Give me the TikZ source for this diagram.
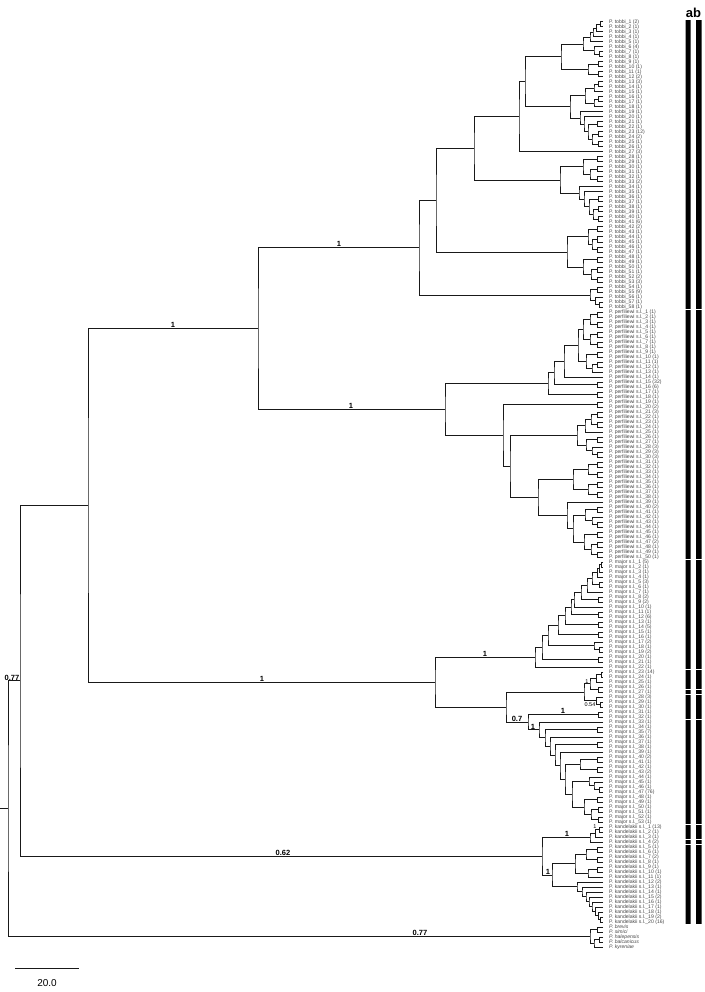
\documentclass[tikz,border=0pt]{standalone}
\usepackage{fontspec}
\setmainfont{Liberation Sans}
\usetikzlibrary{calc}
\tikzset{
  br/.style={line width=1pt, draw=black!90},
  lab/.style={anchor=west, inner sep=0pt, text=black!72, font=\fontsize{5.1}{5}\selectfont},
  labit/.style={lab, font=\fontsize{5.1}{5}\selectfont\itshape},
  sup/.style={inner sep=0.6pt, font=\fontsize{7.5}{8}\selectfont\bfseries},
  supsm/.style={inner sep=0.4pt, font=\fontsize{5.5}{6}\selectfont},
}
\newcommand\clade[4]{%
  \path let \p1=(#3), \p2=(#4) in coordinate (#1) at (#2pt,{0.5*\y1+0.5*\y2});
  \draw[br] (#3) -| (#1) |- (#4);}
\newcommand\supv[4][sup]{%
  \path let \p1=(#3) in node[#1,anchor=south] at (#2pt,\y1) {#4};}
\newcommand\barseg[2]{%
  \path let \p1=(#1), \p2=(#2) in
    [fill=black] (685.5pt,\y1+1.8pt) rectangle (690.5pt,\y2-1.8pt)
    (696pt,\y1+1.8pt) rectangle (701.5pt,\y2-1.8pt);}
\begin{document}
\begin{tikzpicture}[x=1pt,y=-1pt]
\fill[white] (0,0) rectangle (704,992);
\useasboundingbox (0,0) rectangle (704,992);
% ---------- leaves ----------
\foreach \c [count=\i] in {2,1,1,1,1,4,1,1,1,1,1,2,3,1,1,1,1,1,1,1,1,1,12,2,1,1,3,1,1,1,1,1,2,1,1,1,1,1,1,1,6,2,1,1,1,1,1,1,1,1,1,2,3,1,9,1,1,1}{
  \pgfmathsetmacro\yy{22+5*(\i-1)}
  \coordinate (T\i) at (603,\yy);
  \node[lab] (nT\i) at (609,\yy) {P. tobbi\_\i\ (\c)};}
\foreach \c [count=\i] in {1,1,1,1,1,1,1,1,1,1,1,1,1,1,32,6,1,1,1,2,3,1,1,1,1,1,1,3,3,3,1,1,1,1,1,1,1,1,1,2,1,1,1,1,1,1,2,1,1,1}{
  \pgfmathsetmacro\yy{312+5*(\i-1)}
  \coordinate (P\i) at (603,\yy);
  \node[lab] (nP\i) at (609,\yy) {P. perfiliewi s.l.\_\i\ (\c)};}
\foreach \c [count=\i] in {5,1,1,1,3,1,1,2,2,1,1,6,1,5,1,1,2,1,2,1,1,1,14,1,1,1,1,3,1,1,1,1,1,1,7,1,1,1,1,2,1,1,2,1,1,1,76,1,1,1,1,1,1}{
  \pgfmathsetmacro\yy{562+5*(\i-1)}
  \coordinate (M\i) at (603,\yy);
  \node[lab] (nM\i) at (609,\yy) {P. major s.l.\_\i\ (\c)};}
\foreach \c [count=\i] in {13,1,1,2,1,1,2,1,1,1,1,2,1,1,2,1,1,1,2,16}{
  \pgfmathsetmacro\yy{827+5*(\i-1)}
  \coordinate (K\i) at (603,\yy);
  \node[lab] (nK\i) at (609,\yy) {P. kandelakii s.l.\_\i\ (\c)};}
\foreach \s [count=\i] in {brevis,simici,halepensis,balcanicus,kyreniae}{
  \pgfmathsetmacro\yy{927+5*(\i-1)}
  \coordinate (O\i) at (603,\yy);
  \node[labit] (nO\i) at (609,\yy) {P. \s};}
% ---------- tobbi ----------
\clade{ta1}{600}{T1}{T2}
\clade{ta2}{596}{ta1}{T3}
\clade{ta3}{593}{ta2}{T4}
\clade{ta4}{590}{ta3}{T5}
\clade{ta5}{599}{T7}{T8}
\clade{ta6}{594}{T6}{ta5}
\clade{ta7}{583}{ta4}{ta6}
\clade{ta8}{598}{T9}{T10}
\clade{ta9}{598}{T11}{T12}
\clade{ta10}{588}{ta8}{ta9}
\clade{Xa}{561}{ta7}{ta10}
\clade{tb1}{598}{T13}{T14}
\clade{tb2}{594}{tb1}{T15}
\clade{tb3}{598}{T16}{T17}
\clade{tb4}{594}{tb3}{T18}
\clade{tb5}{585}{tb2}{tb4}
\clade{tb6}{598}{T23}{T24}
\clade{tb7}{598}{T25}{T26}
\clade{tb8}{592}{tb6}{tb7}
\clade{tb9}{597}{T21}{T22}
\clade{tb10}{588}{tb9}{tb8}
\clade{tb11}{584}{T20}{tb10}
\clade{tb12}{580}{T19}{tb11}
\clade{Xb}{570}{tb5}{tb12}
\clade{X}{525}{Xa}{Xb}
\clade{V1}{519}{X}{T27}
\clade{tc1}{597}{T28}{T29}
\clade{tc2}{597}{T30}{T31}
\clade{tc3}{597}{T32}{T33}
\clade{tc4}{590}{tc2}{tc3}
\clade{tc5}{583}{tc1}{tc4}
\clade{tc6}{598}{T38}{T39}
\clade{tc7}{598}{T40}{T41}
\clade{tc8}{593}{tc6}{tc7}
\clade{tc9}{598}{T36}{T37}
\clade{tc10}{589}{tc9}{tc8}
\clade{tc11}{584}{T35}{tc10}
\clade{tc12}{579}{T34}{tc11}
\clade{V2}{560}{tc5}{tc12}
\clade{V}{474}{V1}{V2}
\clade{td1}{597}{T42}{T43}
\clade{td2}{597}{T44}{T45}
\clade{td3}{597}{T46}{T47}
\clade{td4}{592}{td2}{td3}
\clade{td5}{588}{td1}{td4}
\clade{td6}{597}{T48}{T49}
\clade{td7}{597}{T50}{T51}
\clade{td8}{597}{T52}{T53}
\clade{td9}{591}{td7}{td8}
\clade{td10}{583}{td6}{td9}
\clade{W}{567}{td5}{td10}
\clade{U}{436}{V}{W}
\clade{te1}{597}{T54}{T55}
\clade{te2}{599}{T57}{T58}
\clade{te3}{595}{T56}{te2}
\clade{Tz}{590}{te1}{te3}
\clade{Troot}{419}{U}{Tz}
% ---------- perfiliewi ----------
\clade{pa1}{597}{P1}{P2}
\clade{pa2}{597}{P3}{P4}
\clade{pa3}{590}{pa1}{pa2}
\clade{pa4}{597}{P5}{P6}
\clade{pa5}{597}{P7}{P8}
\clade{pa6}{590}{pa4}{pa5}
\clade{PA4}{583}{pa3}{pa6}
\clade{pa7}{597}{P9}{P10}
\clade{pa8}{597}{P11}{P12}
\clade{pa9}{592}{pa8}{P13}
\clade{PA5}{586}{pa7}{pa9}
\clade{PA3}{578}{PA4}{PA5}
\clade{PA2}{564}{PA3}{P14}
\clade{pa10}{597}{P15}{P16}
\clade{PA1}{554}{PA2}{pa10}
\clade{pa11}{597}{P17}{P18}
\clade{PA}{548}{PA1}{pa11}
\clade{pb1}{597}{P19}{P20}
\clade{pc1}{597}{P21}{P22}
\clade{pc2}{597}{P23}{P24}
\clade{pc3}{591}{pc1}{pc2}
\clade{pc4}{585}{pc3}{P25}
\clade{pc5}{597}{P26}{P27}
\clade{pc6}{597}{P29}{P30}
\clade{pc7}{592}{P28}{pc6}
\clade{pc8}{586}{pc5}{pc7}
\clade{PC1}{577}{pc4}{pc8}
\clade{pd1}{597}{P31}{P32}
\clade{pd2}{597}{P33}{P34}
\clade{pd3}{588}{pd1}{pd2}
\clade{pd4}{597}{P35}{P36}
\clade{pd5}{597}{P37}{P38}
\clade{pd6}{588}{pd4}{pd5}
\clade{PD1}{573}{pd3}{pd6}
\clade{pe1}{597}{P40}{P41}
\clade{pe2}{597}{P43}{P44}
\clade{pe3}{592}{P42}{pe2}
\clade{pe4}{585}{pe1}{pe3}
\clade{pe5}{597}{P45}{P46}
\clade{pe6}{597}{P47}{P48}
\clade{pe7}{597}{P49}{P50}
\clade{pe8}{591}{pe6}{pe7}
\clade{pe9}{584}{pe5}{pe8}
\clade{PD3}{573}{pe4}{pe9}
\clade{PD2}{567}{P39}{PD3}
\clade{PC2}{538}{PD1}{PD2}
\clade{PC}{510}{PC1}{PC2}
\clade{PB}{503}{pb1}{PC}
\clade{Proot}{445}{PA}{PB}
\clade{C}{258}{Troot}{Proot}
% ---------- major ----------
\clade{ma1}{601}{M1}{M2}
\clade{ma2}{599}{ma1}{M3}
\clade{ma3}{597}{ma2}{M4}
\clade{ma4}{599}{M5}{M6}
\clade{ma5}{592}{ma3}{ma4}
\clade{ma6}{587}{ma5}{M7}
\clade{ma7}{598}{M8}{M9}
\clade{ma8}{581}{ma6}{ma7}
\clade{ma9}{574}{ma8}{M10}
\clade{ma10}{598}{M11}{M12}
\clade{ma11}{571}{ma9}{ma10}
\clade{ma12}{598}{M13}{M14}
\clade{ma13}{565}{ma11}{ma12}
\clade{ma14}{598}{M15}{M16}
\clade{ma15}{558}{ma13}{ma14}
\clade{ma16}{599}{M18}{M19}
\clade{ma17}{594}{M17}{ma16}
\clade{ma18}{548}{ma15}{ma17}
\clade{ma19}{598}{M20}{M21}
\clade{ma20}{542}{ma18}{ma19}
\clade{MA}{535}{ma20}{M22}
\clade{mc1}{601}{M23}{M24}
\clade{mc2}{596}{mc1}{M25}
\clade{mc3}{598}{M26}{M27}
\clade{MC1}{590}{mc2}{mc3}
\clade{mc4}{600}{M29}{M30}
\clade{MC2}{596}{M28}{mc4}
\clade{MC}{584}{MC1}{MC2}
\clade{md1}{598}{M31}{M32}
\clade{me1}{597}{M34}{M35}
\clade{me2}{597}{M37}{M38}
\clade{me3}{597}{M40}{M41}
\clade{me4}{597}{M42}{M43}
\clade{Ea}{580}{me3}{me4}
\clade{me5}{599}{M46}{M47}
\clade{me6}{594}{M45}{me5}
\clade{me7}{589}{M44}{me6}
\clade{me8}{597}{M48}{M49}
\clade{me9}{598}{M50}{M51}
\clade{me10}{598}{M52}{M53}
\clade{me11}{591}{me9}{me10}
\clade{me12}{584}{me8}{me11}
\clade{Eb}{572}{me7}{me12}
\clade{e6}{565}{Ea}{Eb}
\clade{e5}{560}{M39}{e6}
\clade{e4}{555}{me2}{e5}
\clade{e3}{550}{M36}{e4}
\clade{e2}{545}{me1}{e3}
\clade{ME}{539}{M33}{e2}
\clade{MD}{528}{md1}{ME}
\clade{MB}{506}{MC}{MD}
\clade{Mroot}{435}{MA}{MB}
\clade{B}{88}{C}{Mroot}
% ---------- kandelakii ----------
\clade{ka1}{599}{K1}{K2}
\clade{ka2}{595}{ka1}{K3}
\clade{KA}{590}{ka2}{K4}
\clade{kb1}{597}{K5}{K6}
\clade{kb2}{597}{K7}{K8}
\clade{kb3}{586}{kb1}{kb2}
\clade{kb4}{597}{K9}{K10}
\clade{kb5}{588}{kb4}{K11}
\clade{KB1}{575}{kb3}{kb5}
\clade{kc8}{600}{K19}{K20}
\clade{kc7}{598}{K18}{kc8}
\clade{kc6}{595}{K17}{kc7}
\clade{kc5}{592}{K16}{kc6}
\clade{kc4}{589}{K15}{kc5}
\clade{kc3}{586}{K14}{kc4}
\clade{kc2}{582}{K13}{kc3}
\clade{KB2}{577}{K12}{kc2}
\clade{KB}{552}{KB1}{KB2}
\clade{Kroot}{542}{KA}{KB}
\clade{A}{20}{B}{Kroot}
% ---------- outgroup & root ----------
\clade{o1}{597}{O1}{O2}
\clade{o2}{599}{O3}{O4}
\clade{o3}{594}{o2}{O5}
\clade{Og}{590}{o1}{o3}
\clade{Root}{8}{A}{Og}
\path let \p1=(Root) in coordinate (stub) at (0pt,\y1);
\draw[br] (stub) -- (Root);
% ---------- support values ----------
\supv{12}{A}{0.77}
\supv{173}{C}{1}
\supv{339}{Troot}{1}
\supv{351}{Proot}{1}
\supv{262}{Mroot}{1}
\supv{485}{MA}{1}
\supv{517}{MD}{0.7}
\supv{563}{md1}{1}
\supv{533}{ME}{1}
\supv[supsm]{587}{MC1}{1}
\path let \p1=(MC2) in node[supsm,anchor=north] at (590pt,\y1-1pt) {0.54};
\supv{283}{Kroot}{0.62}
\supv{567}{KA}{1}
\supv{548}{KB}{1}
\supv[supsm]{595}{ka1}{1}
\supv{420}{Og}{0.77}
% ---------- bars ----------
\barseg{T1}{T58}
\barseg{P1}{P50}
\barseg{M1}{M22}
\barseg{M23}{M26}
\barseg{M27}{M27}
\barseg{M28}{M32}
\barseg{M33}{M53}
\barseg{K1}{K3}
\barseg{K4}{K4}
\barseg{K5}{K20}
\node[font=\fontsize{13}{13}\selectfont\bfseries, inner sep=0pt] (hdr) at (693.5,13) {ab};
% ---------- scale ----------
\coordinate (s1) at (15,968);
\coordinate (s2) at (79,968);
\draw[br] (s1) -- (s2);
\node[font=\fontsize{10}{10}\selectfont, inner sep=0pt] (sc) at (47,983) {20.0};
\end{tikzpicture}
\end{document}
